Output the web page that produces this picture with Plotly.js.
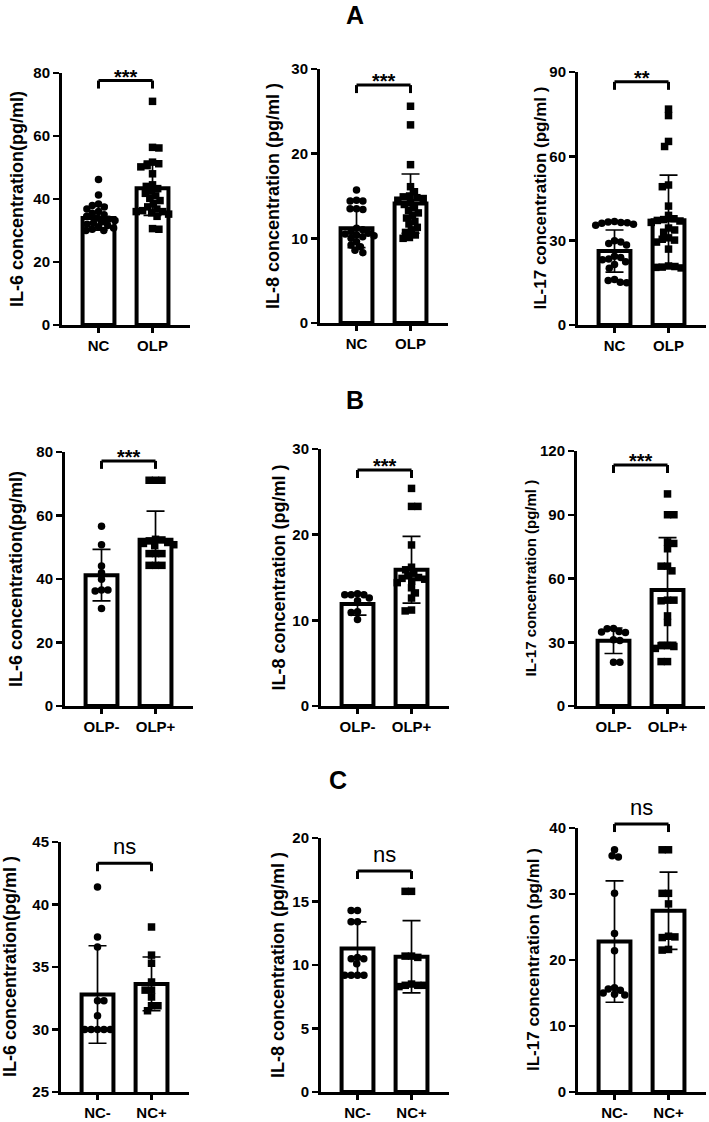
<!DOCTYPE html>
<html><head><meta charset="utf-8">
<script src="https://cdn.plot.ly/plotly-3.0.1.min.js"></script>
<style>html,body{margin:0;padding:0;background:#fff}</style>
</head><body><div id="chart" style="width:709px;height:1122px"></div>
<script>
// ---------- categories ----------
const catsA = ['NC', 'OLP'];
const catsB = ['OLP-', 'OLP+'];
const catsC = ['NC-', 'NC+'];
const rowLabels = ['A', 'B', 'C'];
const yTitles = [
  'IL-6 concentration(pg/ml)', 'IL-8 concentration (pg/ml )', 'IL-17 concentration (pg/ml )',
  'IL-6 concentration(pg/ml)', 'IL-8 concentration (pg/ml )', 'IL-17 concentration (pg/ml )',
  'IL-6 concentration(pg/ml )', 'IL-8 concentration (pg/ml )', 'IL-17 concentration (pg/ml )'
];
const sigLabels = ['***', '***', '**', '***', '***', '***', 'ns', 'ns', 'ns'];

// ---------- Row A : NC vs OLP ----------
const A_IL6_NC  = [46.2, 41.3, 38.4, 37.9, 37.5, 36.8, 36.0, 35.5, 35.0, 34.5, 34.0, 33.6, 33.2, 32.8, 32.4, 32.0, 31.6, 31.2, 30.8, 30.4, 30.0, 30.0];
const A_IL6_OLP = [71.0, 56.4, 56.2, 51.7, 51.2, 50.6, 50.2, 48.0, 44.5, 44.0, 43.3, 42.5, 41.8, 41.0, 40.2, 39.5, 38.5, 37.5, 36.8, 36.3, 36.0, 36.0, 35.6, 35.2, 34.5, 30.6, 30.4];
const A_IL6_mean = [34.0, 43.4];
const A_IL6_sd   = [3.9, 8.6];

const A_IL8_NC  = [15.7, 14.5, 14.4, 14.4, 13.5, 13.5, 13.4, 11.2, 11.0, 10.8, 10.6, 10.5, 10.4, 10.3, 10.2, 10.0, 9.6, 9.2, 9.0, 8.6, 8.3];
const A_IL8_OLP = [25.6, 23.4, 18.7, 16.1, 15.5, 15.0, 14.9, 14.8, 14.7, 14.5, 14.2, 14.0, 13.6, 13.3, 13.0, 12.7, 12.4, 12.0, 11.7, 11.3, 11.0, 10.7, 10.4, 10.1, 10.0];
const A_IL8_mean = [11.2, 14.1];
const A_IL8_sd   = [2.3, 3.5];

const A_IL17_NC  = [36.8, 36.6, 36.5, 36.4, 36.2, 35.8, 35.5, 30.0, 29.5, 29.0, 28.5, 24.5, 24.0, 23.5, 23.2, 22.5, 21.5, 20.2, 16.2, 15.8, 15.2, 15.0];
const A_IL17_OLP = [76.8, 74.5, 65.3, 63.5, 49.8, 49.2, 42.3, 39.0, 37.8, 37.5, 37.2, 37.0, 36.5, 34.5, 33.8, 33.0, 31.0, 30.5, 30.2, 29.5, 27.0, 21.0, 20.8, 20.6, 20.5, 20.3];
const A_IL17_mean = [26.3, 37.3];
const A_IL17_sd   = [7.5, 16.0];

// ---------- Row B : OLP- vs OLP+ ----------
const B_IL6_neg = [56.6, 50.8, 44.1, 42.0, 39.9, 36.5, 36.5, 36.2, 30.7];
const B_IL6_pos = [71.1, 71.1, 71.1, 52.5, 52.3, 52.0, 51.5, 51.2, 50.8, 50.5, 48.0, 48.0, 48.0, 44.3, 44.3, 44.3];
const B_IL6_mean = [41.2, 52.4];
const B_IL6_sd   = [8.1, 9.0];

const B_IL8_neg = [13.1, 13.0, 13.0, 13.0, 12.6, 12.3, 11.0, 10.9, 10.1];
const B_IL8_pos = [25.4, 23.3, 23.3, 18.8, 16.2, 15.9, 15.5, 15.2, 15.0, 14.9, 14.8, 14.6, 14.4, 13.8, 13.2, 12.6, 11.2, 11.1];
const B_IL8_mean = [11.9, 15.9];
const B_IL8_sd   = [1.3, 3.9];

const B_IL17_neg = [36.5, 36.3, 35.0, 34.8, 34.6, 31.2, 30.8, 20.6, 20.6];
const B_IL17_pos = [99.8, 90.0, 90.0, 77.2, 76.5, 74.0, 65.8, 65.8, 63.6, 49.8, 49.8, 49.5, 42.4, 39.3, 28.4, 28.4, 28.0, 27.1, 20.9, 20.9];
const B_IL17_mean = [30.7, 54.6];
const B_IL17_sd   = [6.0, 24.6];

// ---------- Row C : NC- vs NC+ ----------
const C_IL6_neg = [41.4, 37.4, 36.6, 32.3, 32.3, 31.1, 30.0, 30.0, 30.0, 30.0, 30.0];
const C_IL6_pos = [38.2, 35.95, 35.3, 33.8, 33.15, 33.15, 32.6, 31.9, 31.9, 31.5];
const C_IL6_mean = [32.8, 33.65];
const C_IL6_sd   = [3.9, 2.15];

const C_IL8_neg = [14.3, 14.3, 13.4, 13.4, 10.6, 10.5, 10.5, 10.1, 9.2, 9.2, 9.2, 9.2];
const C_IL8_pos = [15.8, 15.8, 10.7, 10.7, 10.6, 8.5, 8.4, 8.4, 8.4, 8.3];
const C_IL8_mean = [11.3, 10.65];
const C_IL8_sd   = [2.1, 2.85];

const C_IL17_neg = [36.7, 35.8, 35.6, 30.1, 24.0, 21.4, 15.8, 15.6, 15.4, 15.0, 14.8, 14.7];
const C_IL17_pos = [36.7, 36.7, 30.1, 30.1, 28.5, 23.6, 23.5, 23.4, 21.6, 21.5];
const C_IL17_mean = [22.8, 27.45];
const C_IL17_sd   = [9.2, 5.85];

// ---------- layout configuration ----------
const W = 709, H = 1122, PW = 128;
const XR = [-0.676, 1.694];
const FONT = 'Liberation Sans, Arial, Helvetica, sans-serif';
const XPX = PW / (XR[1] - XR[0]);

const panels = [
  {cats: catsA, g: [A_IL6_NC, A_IL6_OLP],  mean: A_IL6_mean,  sd: A_IL6_sd,  range: [0, 80],  dtick: 20, br: 77.6,  geo: [62, 73, 325],   tOff: 45, tFs: 18},
  {cats: catsA, g: [A_IL8_NC, A_IL8_OLP],  mean: A_IL8_mean,  sd: A_IL8_sd,  range: [0, 30],  dtick: 10, br: 28.1,  geo: [320, 69, 323],  tOff: 47, tFs: 18},
  {cats: catsA, g: [A_IL17_NC, A_IL17_OLP],mean: A_IL17_mean, sd: A_IL17_sd, range: [0, 90],  dtick: 30, br: 86.5,  geo: [578, 72, 325],  tOff: 38, tFs: 17},
  {cats: catsB, g: [B_IL6_neg, B_IL6_pos], mean: B_IL6_mean,  sd: B_IL6_sd,  range: [0, 80],  dtick: 20, br: 77.2,  geo: [65, 452, 706],  tOff: 49, tFs: 18},
  {cats: catsB, g: [B_IL8_neg, B_IL8_pos], mean: B_IL8_mean,  sd: B_IL8_sd,  range: [0, 30],  dtick: 10, br: 27.55, geo: [321, 449, 706], tOff: 43, tFs: 18},
  {cats: catsB, g: [B_IL17_neg, B_IL17_pos],mean: B_IL17_mean,sd: B_IL17_sd, range: [0, 120], dtick: 30, br: 113.4, geo: [577, 451, 706], tOff: 47, tFs: 15},
  {cats: catsC, g: [C_IL6_neg, C_IL6_pos], mean: C_IL6_mean,  sd: C_IL6_sd,  range: [25, 45], dtick: 5,  br: 43.3,  geo: [61, 842, 1092], tOff: 51, tFs: 18},
  {cats: catsC, g: [C_IL8_neg, C_IL8_pos], mean: C_IL8_mean,  sd: C_IL8_sd,  range: [0, 20],  dtick: 5,  br: 17.4,  geo: [321, 838, 1092], tOff: 43, tFs: 18},
  {cats: catsC, g: [C_IL17_neg, C_IL17_pos],mean: C_IL17_mean,sd: C_IL17_sd, range: [0, 40],  dtick: 10, br: 40.6,  geo: [578, 828, 1092], tOff: 45, tFs: 17}
];
const rowTitlePos = [[355, 15], [355, 400], [338, 780]];

// beeswarm offsets (px) so points sit side by side
function swarm(vals, pxPerY, d) {
  const order = vals.map((v, i) => i).sort((a, b) => vals[b] - vals[a]);
  const placed = [];
  const off = new Array(vals.length).fill(0);
  let flip = 1;
  for (const i of order) {
    const yp = vals[i] * pxPerY;
    const near = placed.filter(p => Math.abs(p.y - yp) < d);
    const cands = [0];
    near.forEach(p => {
      const dx = Math.sqrt(d * d - (p.y - yp) * (p.y - yp)) + 0.01;
      cands.push(p.x + dx, p.x - dx);
    });
    const ok = cands.filter(c => near.every(p => Math.hypot(p.x - c, p.y - yp) >= d - 0.02));
    ok.sort((a, b) => Math.abs(a) - Math.abs(b) || (flip * (b - a)));
    const x = ok[0];
    flip = -flip;
    off[i] = x;
    placed.push({x: x, y: yp});
  }
  return off;
}

const B = t => '<b>' + t + '</b>';
const data = [];
const layout = {
  width: W, height: H, margin: {l: 0, r: 0, t: 0, b: 0}, showlegend: false,
  paper_bgcolor: '#fff', plot_bgcolor: 'rgba(0,0,0,0)',
  font: {family: FONT, color: '#000'}, shapes: [], annotations: []
};

panels.forEach((p, i) => {
  const s = i === 0 ? '' : String(i + 1);
  const xa = 'x' + s, ya = 'y' + s;
  const [axX, topPx, botPx] = p.geo;
  const xd = [axX / W, (axX + PW) / W];
  const yd = [(H - botPx) / H, (H - topPx) / H];
  const hPx = botPx - topPx;
  const ypx = hPx / (p.range[1] - p.range[0]);

  data.push({
    type: 'bar', x: [0, 1], y: p.mean, xaxis: xa, yaxis: ya, width: 0.59,
    marker: {color: '#fff', line: {color: '#000', width: 4}},
    error_y: {type: 'data', array: p.sd, visible: true, color: '#000', thickness: 1.7, width: 9},
    hoverinfo: 'skip'
  });
  p.g.forEach((vals, gi) => {
    const off = swarm(vals, ypx, 6.4);
    data.push({
      type: 'scatter', mode: 'markers', xaxis: xa, yaxis: ya,
      x: vals.map((v, k) => gi + off[k] / XPX), y: vals,
      marker: {symbol: gi === 0 ? 'circle' : 'square', size: gi === 0 ? 7.5 : 7.5, color: '#000', line: {width: 0}},
      cliponaxis: false, hoverinfo: 'skip'
    });
  });

  const yVals = [];
  for (let v = p.range[0]; v <= p.range[1] + 1e-9; v += p.dtick) yVals.push(v);
  const tickfont = {family: FONT, size: 15, color: '#000'};
  layout['xaxis' + s] = {
    domain: xd, range: XR, anchor: ya, showline: true, linecolor: '#000', linewidth: 3,
    ticks: 'outside', ticklen: 5, tickwidth: 2.5, tickcolor: '#000',
    tickmode: 'array', tickvals: [0, 1], ticktext: p.cats.map(B), tickfont: tickfont,
    showgrid: false, zeroline: false, fixedrange: true
  };
  layout['yaxis' + s] = {
    domain: yd, range: p.range, anchor: xa, showline: true, linecolor: '#000', linewidth: 3,
    ticks: 'outside', ticklen: 6, tickwidth: 2.5, tickcolor: '#000',
    tickmode: 'array', tickvals: yVals, ticktext: yVals.map(v => B(v)), tickfont: tickfont,
    showgrid: false, zeroline: false, fixedrange: true
  };

  // y-axis title
  layout.annotations.push({
    xref: xa + ' domain', yref: ya + ' domain', x: 0, y: 0.5, xshift: -p.tOff,
    text: B(yTitles[i]), textangle: -90, showarrow: false, xanchor: 'center', yanchor: 'middle',
    font: {family: FONT, size: p.tFs, color: '#000'}
  });

  // significance bracket
  const fx = c => (c - XR[0]) / (XR[1] - XR[0]);
  const fy = (p.br - p.range[0]) / (p.range[1] - p.range[0]);
  const leg = 8 / hPx;
  const lw = {color: '#000', width: 3};
  const xr = xa + ' domain', yr = ya + ' domain';
  layout.shapes.push(
    {type: 'line', xref: xr, yref: yr, x0: fx(0), x1: fx(1), y0: fy, y1: fy, line: lw},
    {type: 'line', xref: xr, yref: yr, x0: fx(0), x1: fx(0), y0: fy, y1: fy - leg, line: lw},
    {type: 'line', xref: xr, yref: yr, x0: fx(1), x1: fx(1), y0: fy, y1: fy - leg, line: lw}
  );
  const isNs = sigLabels[i] === 'ns';
  layout.annotations.push({
    xref: xr, yref: yr, x: fx(0.5), y: fy, showarrow: false, xanchor: 'center', yanchor: 'middle',
    yshift: isNs ? 17 : 4, text: isNs ? sigLabels[i] : B(sigLabels[i]),
    font: {family: FONT, size: isNs ? 22 : 20, color: '#000'}
  });
});

rowLabels.forEach((t, r) => {
  layout.annotations.push({
    xref: 'paper', yref: 'paper', x: rowTitlePos[r][0] / W, y: 1 - rowTitlePos[r][1] / H,
    text: B(t), showarrow: false, xanchor: 'center', yanchor: 'middle',
    font: {family: FONT, size: 25, color: '#000'}
  });
});

Plotly.newPlot('chart', data, layout, {staticPlot: true, displayModeBar: false});
</script>
</body></html>
